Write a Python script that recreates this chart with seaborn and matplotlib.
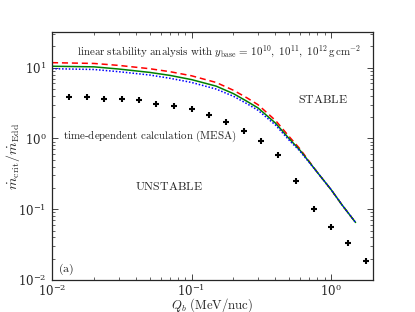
import numpy as np
import pandas as pd
import matplotlib
matplotlib.use("Agg")
import matplotlib.pyplot as plt
import seaborn as sns

# ── data ──────────────────────────────────────────────────────
q_lin = [0.01, 0.02, 0.03, 0.05, 0.07, 0.1, 0.15, 0.2, 0.25, 0.3, 0.4, 0.5, 0.6, 0.8, 1.0, 1.2, 1.5]
mdot_1e10 = [11.8, 11.5, 10.8, 9.7, 8.8, 7.7, 6.2, 4.8, 3.75, 3.0, 1.8, 1.07, 0.71, 0.33, 0.19, 0.115, 0.065]
mdot_1e11 = [10.5, 10.3, 9.6, 8.6, 7.8, 6.8, 5.5, 4.3, 3.35, 2.7, 1.65, 1.0, 0.68, 0.33, 0.19, 0.115, 0.065]
mdot_1e12 = [9.7, 9.45, 8.8, 7.9, 7.1, 6.2, 5.0, 3.95, 3.1, 2.5, 1.55, 0.95, 0.66, 0.33, 0.19, 0.115, 0.065]

q_mesa = [0.0133, 0.0178, 0.0237, 0.0316, 0.042, 0.056, 0.075, 0.1, 0.133,
          0.178, 0.237, 0.316, 0.42, 0.56, 0.75, 1.0, 1.33, 1.78]
mdot_mesa = [3.88, 3.9, 3.67, 3.67, 3.47, 3.08, 2.89, 2.59, 2.15,
             1.71, 1.29, 0.92, 0.575, 0.252, 0.100, 0.0556, 0.033, 0.0185]

sns.set_style("ticks")
plt.rcParams["mathtext.fontset"] = "cm"
plt.rcParams["font.family"] = ["DejaVu Serif"]
plt.rcParams["xtick.direction"] = "in"
plt.rcParams["ytick.direction"] = "in"

fig = plt.figure(figsize=(4.15, 3.12), dpi=100)
ax = fig.add_axes([0.1253, 0.1026, 0.7735, 0.7948])

lines = pd.DataFrame({"Q": q_lin * 3,
                      "mdot": mdot_1e10 + mdot_1e11 + mdot_1e12,
                      "ybase": ["1e10"] * len(q_lin) + ["1e11"] * len(q_lin) + ["1e12"] * len(q_lin)})
sns.lineplot(data=lines, x="Q", y="mdot", hue="ybase", style="ybase",
             palette={"1e10": "red", "1e11": "green", "1e12": "blue"},
             dashes={"1e10": (4, 2.5), "1e11": "", "1e12": (1, 1.2)},
             lw=1.1, legend=False, ax=ax)

sns.scatterplot(x=q_mesa, y=mdot_mesa, marker="+", color="black", s=24,
                linewidth=1.5, ax=ax)

ax.set_xscale("log")
ax.set_yscale("log")
ax.set_xlim(0.01, 2.0)
ax.set_ylim(0.01, 32)
ax.tick_params(which="both", top=True, right=True, labelsize=8.5)
ax.tick_params(axis="x", pad=2)
ax.tick_params(axis="y", pad=4)
ax.tick_params(which="major", length=4, width=0.6)
ax.tick_params(which="minor", length=2, width=0.5)
for s in ax.spines.values():
    s.set_linewidth(0.9)

ax.set_xlabel(r"$Q_b\ \mathrm{(MeV/nuc)}$", fontsize=9.2)
ax.set_ylabel(r"$\dot{m}_\mathrm{crit}/\dot{m}_\mathrm{Edd}$", fontsize=10)
ax.xaxis.set_label_coords(0.5, -0.066)
ax.yaxis.set_label_coords(-0.093, 0.5)

fs = 7.9
ax.text(0.158, 16.5, r"$\mathrm{linear\ stability\ analysis\ with}\ y_\mathrm{base}\,=\,10^{10},\ 10^{11},\ 10^{12}\,\mathrm{g\,cm^{-2}}$",
        fontsize=fs, ha="center", va="center", color="#222222")
ax.text(0.877, 3.55, r"$\mathrm{STABLE}$", fontsize=8.6, ha="center", va="center", color="#222222")
ax.text(0.012, 1.06, r"$\mathrm{time\text{-}dependent\ calculation\ (MESA)}$", fontsize=fs,
        ha="left", va="center", color="#222222")
ax.text(0.069, 0.207, r"$\mathrm{UNSTABLE}$", fontsize=8.6, ha="center", va="center", color="#222222")
ax.text(0.011, 0.0142, r"$\mathrm{(a)}$", fontsize=8.6, ha="left", va="center", color="#222222")

fig.savefig("out.png", dpi=100)
